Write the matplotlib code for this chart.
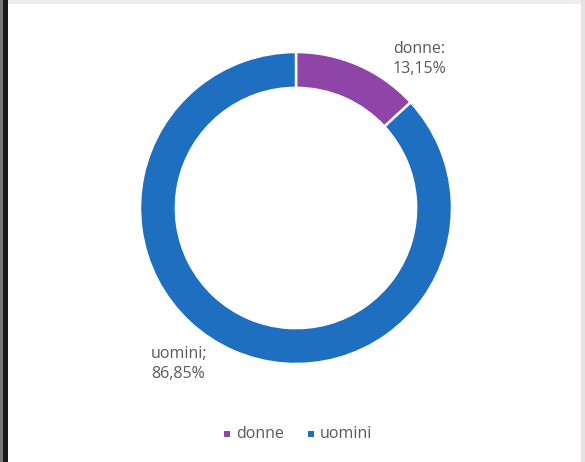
import matplotlib.pyplot as plt
from matplotlib.patches import Rectangle

# quota per genere
labels = ["donne", "uomini"]
values = [13.15, 86.85]
value_text = ["13,15%", "86,85%"]
colors = ["#8f44a8", "#1f6fc1"]

W, H = 585, 462
fig = plt.figure(figsize=(W / 100, H / 100), dpi=100)
fig.patch.set_facecolor("white")
plt.rcParams["font.family"] = ["Open Sans", "DejaVu Sans"]

# sfondo in pixel per cornice, etichette e legenda
bg = fig.add_axes([0, 0, 1, 1])
bg.set_xlim(0, W)
bg.set_ylim(H, 0)
bg.axis("off")
bg.add_patch(Rectangle((0, 0), W, 4, color="#eeeeee", lw=0))
bg.add_patch(Rectangle((581, 0), 4, H, color="#e4e2e2", lw=0))
bg.add_patch(Rectangle((0, 0), 3, H, color="#777777", lw=0))
bg.add_patch(Rectangle((3, 0), 5, H, color="#1a1a1a", lw=0))

# anello
cx, cy, rad = 296, 208, 156
ax = fig.add_axes([(cx - rad) / W, 1 - (cy + rad) / H, 2 * rad / W, 2 * rad / H])
ax.pie(values, colors=colors, startangle=90, counterclock=False,
       wedgeprops=dict(width=0.23, edgecolor="white", linewidth=1.8))
ax.set_xlim(-1, 1)
ax.set_ylim(-1, 1)
ax.axis("off")

txt = dict(color="#595959", fontsize=11.5, va="center", ha="left", linespacing=1.3)
bg.text(393, 59, labels[0] + ":\n" + value_text[0], **txt)
bg.text(151, 364, labels[1] + ";\n" + value_text[1], **txt)

# legenda
items = [(224, labels[0], colors[0]), (308, labels[1], colors[1])]
for x, name, c in items:
    bg.add_patch(Rectangle((x, 431), 6, 6, color=c, lw=0))
    bg.text(x + 12, 434, name, color="#595959", fontsize=11.5, va="center", ha="left")

fig.savefig("out.png", dpi=100)
